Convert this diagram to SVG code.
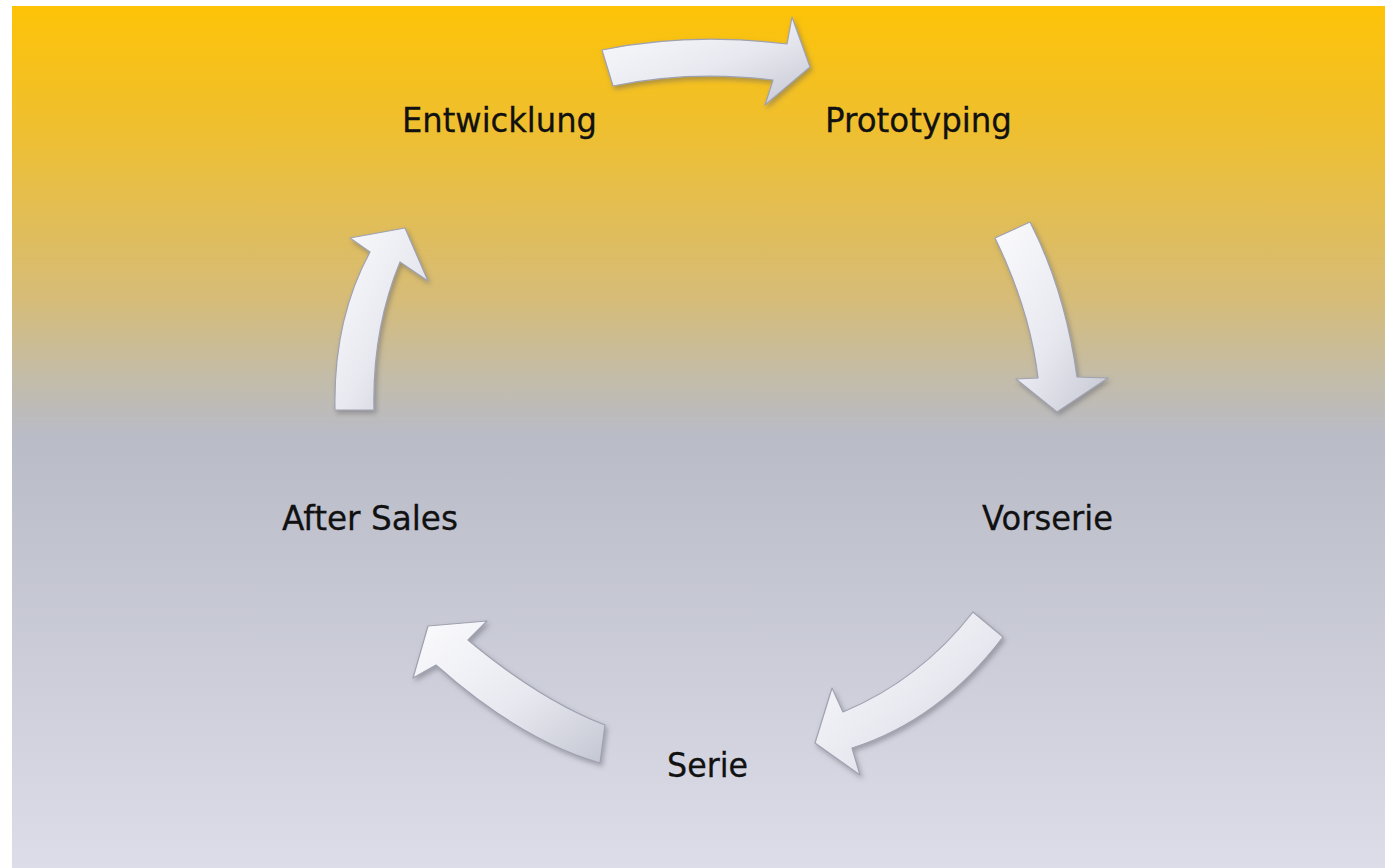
<svg xmlns="http://www.w3.org/2000/svg" width="1385" height="868" viewBox="0 0 1385 868">
<defs>
<linearGradient id="bg" x1="0" y1="6" x2="0" y2="868" gradientUnits="userSpaceOnUse">
<stop offset="0" stop-color="#FDC307"/>
<stop offset="0.14" stop-color="#EFBF2F"/>
<stop offset="0.34" stop-color="#D6BC78"/>
<stop offset="0.43" stop-color="#C3BCA8"/>
<stop offset="0.5" stop-color="#B9BBC7"/>
<stop offset="1" stop-color="#DCDDE8"/>
</linearGradient>
<linearGradient id="arrowFill" x1="0" y1="0" x2="1" y2="1">
<stop offset="0" stop-color="#FBFBFD"/>
<stop offset="0.55" stop-color="#E8E9F0"/>
<stop offset="1" stop-color="#C4C6D2"/>
</linearGradient>
<filter id="shadow" x="-20%" y="-20%" width="140%" height="140%">
<feDropShadow dx="2" dy="3" stdDeviation="2.5" flood-color="#5a5a66" flood-opacity="0.45"/>
</filter>
<style>
.arrow{fill:url(#arrowFill);stroke:#9FA1B0;stroke-width:1.2;stroke-linejoin:round;filter:url(#shadow)}
.lbl{font-family:"DejaVu Sans","Liberation Sans",sans-serif;font-size:34px;fill:#111;stroke:#111;stroke-width:0.3}
</style>
</defs>
<rect x="0" y="0" width="1385" height="868" fill="#ffffff"/>
<rect x="12" y="6" width="1373" height="862" fill="url(#bg)"/>
<g id="connectors">
<path class="arrow" d="M602,50 Q690,32 787,44 L792,17 L810,67 L765,105 L773,80 Q690,70 613,86 Z"/>
<path class="arrow" d="M995,238 L1030,222 Q1065,290 1077,377 L1108,378 L1057,412 L1016,379 L1038,378 Q1030,310 995,238 Z"/>
<path class="arrow" d="M973,612 L1003,637 Q940,720 852,748 L860,775 L815,743 L832,688 L843,712 Q920,680 973,612 Z"/>
<path class="arrow" d="M605,725 Q540,700 468,640 L487,621 L428,626 L413,678 L436,665 Q520,740 600,763 Z"/>
<path class="arrow" d="M335,410 Q333,320 370,252 L350,238 L405,228 L428,281 L400,262 Q372,330 374,410 Z"/>
</g>
<g id="node-entwicklung"><text class="lbl" x="402" y="132" textLength="195" lengthAdjust="spacingAndGlyphs">Entwicklung</text></g>
<g id="node-prototyping"><text class="lbl" x="825" y="132" textLength="187" lengthAdjust="spacingAndGlyphs">Prototyping</text></g>
<g id="node-vorserie"><text class="lbl" x="982" y="530" textLength="131" lengthAdjust="spacingAndGlyphs">Vorserie</text></g>
<g id="node-serie"><text class="lbl" x="667" y="777" textLength="81" lengthAdjust="spacingAndGlyphs">Serie</text></g>
<g id="node-aftersales"><text class="lbl" x="282" y="530" textLength="176" lengthAdjust="spacingAndGlyphs">After Sales</text></g>
</svg>
